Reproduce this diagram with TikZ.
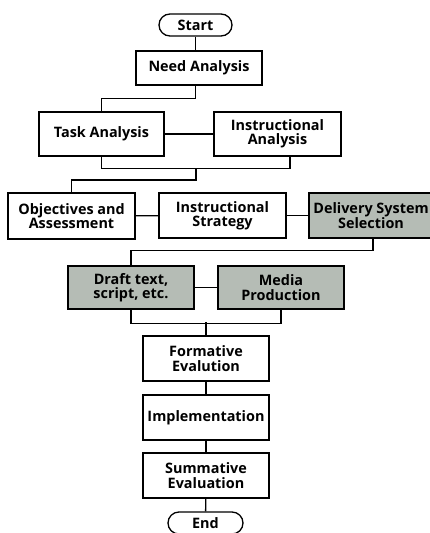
\documentclass[tikz,border=0pt]{standalone}
\usepackage{fontspec}
\setmainfont{Open Sans}
\usetikzlibrary{positioning}
\definecolor{boxgrey}{RGB}{181,188,181}

\begin{document}
\begin{tikzpicture}[x=1pt, y=-1pt, line width=1.3pt]
\tikzstyle{box}=[draw, rectangle, align=center, inner sep=0pt, minimum width=126pt, minimum height=45pt, font=\fontsize{14.4}{14.2}\selectfont\bfseries]
\tikzstyle{greybox}=[box, fill=boxgrey]
\tikzstyle{term}=[box, rounded corners=11pt, minimum width=73pt, minimum height=22pt]
\clip (0,0) rectangle (430,533);

\node[term] (start) at (195.5,25) {Start};
\node[box, minimum height=34pt] (need) at (199,68) {Need Analysis};
\node[box, minimum width=125pt, minimum height=44pt] (task) at (101.5,134) {Task Analysis};
\node[box, minimum width=127pt, minimum height=44pt] (instr) at (277.5,134) {Instructional\\Analysis};
\node[box, minimum width=127pt, minimum height=46pt] (obj) at (71.5,216) {Objectives and\\Assessment};
\node[box, minimum width=127pt] (strat) at (222.5,215.5) {Instructional\\Strategy};
\node[greybox, minimum width=124pt] (deliv) at (371,215.5) {Delivery System\\Selection};
\node[greybox, minimum height=43pt] (draft) at (131,287.5) {Draft text,\\script, etc.};
\node[greybox, minimum height=43pt] (media) at (281,287.5) {Media\\Production};
\node[box] (form) at (206,358.5) {Formative\\Evalution};
\node[box] (impl) at (206,417.5) {Implementation};
\node[box] (summ) at (206,475.5) {Summative\\Evaluation};
\node[term, minimum width=75pt] (end) at (205.5,523) {End};

\draw (start.south) -- (start.south |- need.north);
\draw (start.south |- need.south) -- ++(0,13) -| (task.north);
\draw (task) -- (instr);
\draw (task.south) -- ++(0,12) -| ([xshift=12.5pt]instr.south);
\coordinate (j1) at (196,168);
\draw (j1) -- ++(0,12) -| (obj.north);
\draw (obj) -- (strat);
\draw (strat) -- (deliv);
\draw ([xshift=2pt]deliv.south) -- ++(0,12) -| (draft.north);
\draw (draft) -- (media);
\draw (draft.south) -- ++(0,14) -| (media.south);
\draw (form.north) -- ++(0,-13);
\draw (form) -- (impl);
\draw (impl) -- (summ);
\draw (summ) -- (end);
\end{tikzpicture}
\end{document}
